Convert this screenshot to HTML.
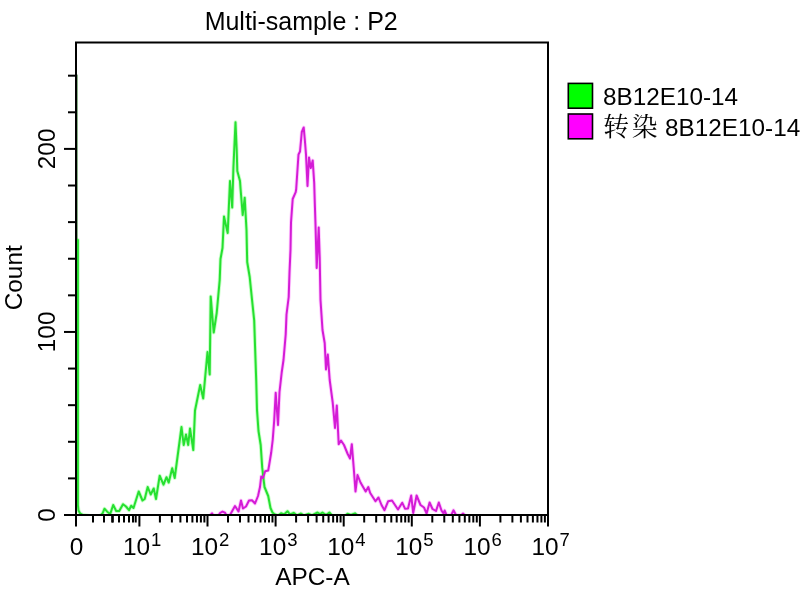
<!DOCTYPE html>
<html lang="zh">
<head>
<meta charset="utf-8">
<title>Multi-sample : P2</title>
<style>
html,body{margin:0;padding:0;background:#fff;}
body{width:800px;height:600px;overflow:hidden;font-family:"Liberation Sans","Noto Serif CJK SC",sans-serif;}
svg{display:block;}
text{font-family:"Liberation Sans","Noto Serif CJK SC",sans-serif;font-size:24.4px;fill:#000;}
.cjk{font-family:"Noto Serif CJK SC","Liberation Serif",serif;font-size:25.8px;letter-spacing:2.6px;}
</style>
</head>
<body>
<svg width="800" height="600" viewBox="0 0 800 600">
<rect x="0" y="0" width="800" height="600" fill="#fff"/>
<defs><clipPath id="plotclip"><rect x="76" y="42" width="472" height="472.6"/></clipPath></defs>
<g fill="none" stroke-linejoin="round" stroke-linecap="round" clip-path="url(#plotclip)">
<line x1="77.3" y1="75" x2="77.3" y2="240" stroke="#0a5c0a" stroke-opacity="0.6" stroke-width="1"/>
<polyline stroke="#00ff00" stroke-opacity="0.22" stroke-width="3.8" points="77.9,240.0 77.9,505.0 78.5,510.5 80.0,513.3 83.0,515.0 90.0,516.0 100.0,516.0 102.7,513.2 104.5,508.7 107.2,511.7 110.2,514.0 113.2,505.0 116.2,511.0 119.2,511.0 123.0,504.2 126.0,506.5 129.0,510.2 131.2,505.7 133.5,508.0 138.7,491.5 142.5,500.5 144.7,499.0 147.7,487.0 150.7,494.5 153.7,488.5 156.0,499.0 159.7,475.7 163.5,484.7 166.5,477.2 168.7,482.5 172.2,468.2 174.7,478.0 181.5,427.0 183.7,445.0 186.0,434.5 188.2,445.0 190.0,428.5 193.3,450.0 195.0,410.5 200.2,385.0 203.2,398.5 207.5,352.0 209.7,374.5 210.7,296.5 213.7,332.5 216.7,313.0 219.7,280.0 220.5,259.0 222.5,248.0 224.0,216.5 227.7,233.0 230.0,181.0 232.2,207.5 233.4,168.0 235.5,122.2 236.7,150.0 237.3,171.0 240.0,181.0 240.5,188.0 242.7,215.0 244.7,197.7 246.5,230.0 247.2,262.0 249.7,277.0 252.0,299.5 254.2,320.5 255.0,345.0 256.2,380.0 257.0,410.0 258.5,431.0 260.7,445.0 262.2,467.5 264.5,487.0 268.2,496.0 270.5,508.0 272.5,512.5 274.5,514.2 278.0,515.5 281.0,513.2 284.0,514.5 287.5,511.2 290.0,514.5 293.7,512.8 297.0,515.5 301.0,513.5 304.0,515.5 308.7,513.8 312.0,515.5 317.5,512.5 320.0,514.0 322.5,512.5 326.0,515.0 329.4,512.5 332.0,515.5 345.0,516.0 347.5,513.8 351.0,515.0 355.0,513.3 358.0,516.0"/>
<polyline stroke="#ff00ff" stroke-opacity="0.2" stroke-width="3.8" points="210.5,515.0 212.0,513.3 213.5,515.5 218.5,515.5 220.0,513.0 222.5,511.6 225.0,512.7 226.5,515.5 230.0,515.0 235.0,506.0 238.5,511.5 241.0,500.5 243.0,508.5 246.0,506.5 249.0,500.5 252.0,500.3 255.0,503.5 258.0,496.0 260.0,487.0 261.2,476.5 263.0,478.0 265.2,471.2 268.2,470.5 269.0,466.0 271.2,452.5 272.7,440.0 274.2,420.5 275.7,392.7 278.0,425.0 279.5,392.0 281.7,372.5 283.5,360.0 285.7,334.5 286.5,314.5 288.7,297.0 289.5,272.5 290.5,250.0 291.0,222.5 292.7,199.0 295.7,192.2 296.2,189.0 298.5,154.5 300.0,151.5 301.8,132.0 303.7,127.5 304.8,139.5 306.0,154.5 307.5,186.0 309.0,157.5 310.8,168.0 312.7,160.5 314.2,183.0 314.7,200.0 315.5,224.5 316.7,268.0 318.7,227.5 319.7,257.5 320.2,285.0 320.5,300.0 322.5,330.0 324.7,343.0 326.0,369.5 327.8,354.5 329.7,380.0 332.7,402.5 335.0,428.0 336.8,405.5 338.7,444.2 341.0,440.5 344.0,445.0 347.7,454.0 350.0,458.5 351.8,444.2 353.7,467.5 355.5,491.5 357.5,475.0 360.5,482.5 365.7,491.5 368.3,487.0 370.2,493.0 375.5,501.2 378.5,497.5 381.5,505.0 384.5,510.2 388.2,501.2 392.0,500.5 395.0,505.0 398.0,509.5 402.2,502.7 405.0,508.7 408.0,508.5 411.2,495.5 413.2,513.0 416.6,495.5 420.5,505.0 424.0,507.5 426.6,513.5 429.6,502.5 432.5,509.0 436.0,511.0 438.8,502.5 441.5,510.5 443.5,513.5 444.6,510.5 446.5,515.0 451.0,515.5 453.5,510.3 456.0,515.0 461.0,515.5 463.0,513.5 465.0,515.5"/>
<polyline stroke="#26e030" stroke-width="2" points="77.9,240.0 77.9,505.0 78.5,510.5 80.0,513.3 83.0,515.0 90.0,516.0 100.0,516.0 102.7,513.2 104.5,508.7 107.2,511.7 110.2,514.0 113.2,505.0 116.2,511.0 119.2,511.0 123.0,504.2 126.0,506.5 129.0,510.2 131.2,505.7 133.5,508.0 138.7,491.5 142.5,500.5 144.7,499.0 147.7,487.0 150.7,494.5 153.7,488.5 156.0,499.0 159.7,475.7 163.5,484.7 166.5,477.2 168.7,482.5 172.2,468.2 174.7,478.0 181.5,427.0 183.7,445.0 186.0,434.5 188.2,445.0 190.0,428.5 193.3,450.0 195.0,410.5 200.2,385.0 203.2,398.5 207.5,352.0 209.7,374.5 210.7,296.5 213.7,332.5 216.7,313.0 219.7,280.0 220.5,259.0 222.5,248.0 224.0,216.5 227.7,233.0 230.0,181.0 232.2,207.5 233.4,168.0 235.5,122.2 236.7,150.0 237.3,171.0 240.0,181.0 240.5,188.0 242.7,215.0 244.7,197.7 246.5,230.0 247.2,262.0 249.7,277.0 252.0,299.5 254.2,320.5 255.0,345.0 256.2,380.0 257.0,410.0 258.5,431.0 260.7,445.0 262.2,467.5 264.5,487.0 268.2,496.0 270.5,508.0 272.5,512.5 274.5,514.2 278.0,515.5 281.0,513.2 284.0,514.5 287.5,511.2 290.0,514.5 293.7,512.8 297.0,515.5 301.0,513.5 304.0,515.5 308.7,513.8 312.0,515.5 317.5,512.5 320.0,514.0 322.5,512.5 326.0,515.0 329.4,512.5 332.0,515.5 345.0,516.0 347.5,513.8 351.0,515.0 355.0,513.3 358.0,516.0"/>
<polyline stroke="#d41cd6" stroke-width="2" points="210.5,515.0 212.0,513.3 213.5,515.5 218.5,515.5 220.0,513.0 222.5,511.6 225.0,512.7 226.5,515.5 230.0,515.0 235.0,506.0 238.5,511.5 241.0,500.5 243.0,508.5 246.0,506.5 249.0,500.5 252.0,500.3 255.0,503.5 258.0,496.0 260.0,487.0 261.2,476.5 263.0,478.0 265.2,471.2 268.2,470.5 269.0,466.0 271.2,452.5 272.7,440.0 274.2,420.5 275.7,392.7 278.0,425.0 279.5,392.0 281.7,372.5 283.5,360.0 285.7,334.5 286.5,314.5 288.7,297.0 289.5,272.5 290.5,250.0 291.0,222.5 292.7,199.0 295.7,192.2 296.2,189.0 298.5,154.5 300.0,151.5 301.8,132.0 303.7,127.5 304.8,139.5 306.0,154.5 307.5,186.0 309.0,157.5 310.8,168.0 312.7,160.5 314.2,183.0 314.7,200.0 315.5,224.5 316.7,268.0 318.7,227.5 319.7,257.5 320.2,285.0 320.5,300.0 322.5,330.0 324.7,343.0 326.0,369.5 327.8,354.5 329.7,380.0 332.7,402.5 335.0,428.0 336.8,405.5 338.7,444.2 341.0,440.5 344.0,445.0 347.7,454.0 350.0,458.5 351.8,444.2 353.7,467.5 355.5,491.5 357.5,475.0 360.5,482.5 365.7,491.5 368.3,487.0 370.2,493.0 375.5,501.2 378.5,497.5 381.5,505.0 384.5,510.2 388.2,501.2 392.0,500.5 395.0,505.0 398.0,509.5 402.2,502.7 405.0,508.7 408.0,508.5 411.2,495.5 413.2,513.0 416.6,495.5 420.5,505.0 424.0,507.5 426.6,513.5 429.6,502.5 432.5,509.0 436.0,511.0 438.8,502.5 441.5,510.5 443.5,513.5 444.6,510.5 446.5,515.0 451.0,515.5 453.5,510.3 456.0,515.0 461.0,515.5 463.0,513.5 465.0,515.5"/>
</g>
<g stroke="#000" stroke-width="2" fill="none">
<rect x="76" y="42.5" width="472" height="472.5"/>
<line x1="64" y1="515.00" x2="76" y2="515.00"/>
<line x1="68" y1="478.39" x2="76" y2="478.39"/>
<line x1="68" y1="441.78" x2="76" y2="441.78"/>
<line x1="68" y1="405.17" x2="76" y2="405.17"/>
<line x1="68" y1="368.56" x2="76" y2="368.56"/>
<line x1="64" y1="331.95" x2="76" y2="331.95"/>
<line x1="68" y1="295.34" x2="76" y2="295.34"/>
<line x1="68" y1="258.73" x2="76" y2="258.73"/>
<line x1="68" y1="222.12" x2="76" y2="222.12"/>
<line x1="68" y1="185.51" x2="76" y2="185.51"/>
<line x1="64" y1="148.90" x2="76" y2="148.90"/>
<line x1="68" y1="112.29" x2="76" y2="112.29"/>
<line x1="68" y1="75.68" x2="76" y2="75.68"/>
<line x1="93.00" y1="515" x2="93.00" y2="522.5"/>
<line x1="104.00" y1="515" x2="104.00" y2="522.5"/>
<line x1="112.20" y1="515" x2="112.20" y2="522.5"/>
<line x1="112.80" y1="515" x2="112.80" y2="522.5"/>
<line x1="119.00" y1="515" x2="119.00" y2="522.5"/>
<line x1="124.00" y1="515" x2="124.00" y2="522.5"/>
<line x1="129.00" y1="515" x2="129.00" y2="522.5"/>
<line x1="133.00" y1="515" x2="133.00" y2="522.5"/>
<line x1="135.70" y1="515" x2="135.70" y2="522.5"/>
<line x1="76.00" y1="515" x2="76.00" y2="526.5"/>
<line x1="139.40" y1="515" x2="139.40" y2="526.5"/>
<line x1="159.90" y1="515" x2="159.90" y2="522.5"/>
<line x1="171.89" y1="515" x2="171.89" y2="522.5"/>
<line x1="180.40" y1="515" x2="180.40" y2="522.5"/>
<line x1="187.00" y1="515" x2="187.00" y2="522.5"/>
<line x1="192.39" y1="515" x2="192.39" y2="522.5"/>
<line x1="196.95" y1="515" x2="196.95" y2="522.5"/>
<line x1="200.90" y1="515" x2="200.90" y2="522.5"/>
<line x1="204.38" y1="515" x2="204.38" y2="522.5"/>
<line x1="207.50" y1="515" x2="207.50" y2="526.5"/>
<line x1="228.00" y1="515" x2="228.00" y2="522.5"/>
<line x1="239.99" y1="515" x2="239.99" y2="522.5"/>
<line x1="248.50" y1="515" x2="248.50" y2="522.5"/>
<line x1="255.10" y1="515" x2="255.10" y2="522.5"/>
<line x1="260.49" y1="515" x2="260.49" y2="522.5"/>
<line x1="265.05" y1="515" x2="265.05" y2="522.5"/>
<line x1="269.00" y1="515" x2="269.00" y2="522.5"/>
<line x1="272.48" y1="515" x2="272.48" y2="522.5"/>
<line x1="275.60" y1="515" x2="275.60" y2="526.5"/>
<line x1="296.10" y1="515" x2="296.10" y2="522.5"/>
<line x1="308.09" y1="515" x2="308.09" y2="522.5"/>
<line x1="316.60" y1="515" x2="316.60" y2="522.5"/>
<line x1="323.20" y1="515" x2="323.20" y2="522.5"/>
<line x1="328.59" y1="515" x2="328.59" y2="522.5"/>
<line x1="333.15" y1="515" x2="333.15" y2="522.5"/>
<line x1="337.10" y1="515" x2="337.10" y2="522.5"/>
<line x1="340.58" y1="515" x2="340.58" y2="522.5"/>
<line x1="343.70" y1="515" x2="343.70" y2="526.5"/>
<line x1="364.20" y1="515" x2="364.20" y2="522.5"/>
<line x1="376.19" y1="515" x2="376.19" y2="522.5"/>
<line x1="384.70" y1="515" x2="384.70" y2="522.5"/>
<line x1="391.30" y1="515" x2="391.30" y2="522.5"/>
<line x1="396.69" y1="515" x2="396.69" y2="522.5"/>
<line x1="401.25" y1="515" x2="401.25" y2="522.5"/>
<line x1="405.20" y1="515" x2="405.20" y2="522.5"/>
<line x1="408.68" y1="515" x2="408.68" y2="522.5"/>
<line x1="411.80" y1="515" x2="411.80" y2="526.5"/>
<line x1="432.30" y1="515" x2="432.30" y2="522.5"/>
<line x1="444.29" y1="515" x2="444.29" y2="522.5"/>
<line x1="452.80" y1="515" x2="452.80" y2="522.5"/>
<line x1="459.40" y1="515" x2="459.40" y2="522.5"/>
<line x1="464.79" y1="515" x2="464.79" y2="522.5"/>
<line x1="469.35" y1="515" x2="469.35" y2="522.5"/>
<line x1="473.30" y1="515" x2="473.30" y2="522.5"/>
<line x1="476.78" y1="515" x2="476.78" y2="522.5"/>
<line x1="479.90" y1="515" x2="479.90" y2="526.5"/>
<line x1="500.40" y1="515" x2="500.40" y2="522.5"/>
<line x1="512.39" y1="515" x2="512.39" y2="522.5"/>
<line x1="520.90" y1="515" x2="520.90" y2="522.5"/>
<line x1="527.50" y1="515" x2="527.50" y2="522.5"/>
<line x1="532.89" y1="515" x2="532.89" y2="522.5"/>
<line x1="537.45" y1="515" x2="537.45" y2="522.5"/>
<line x1="541.40" y1="515" x2="541.40" y2="522.5"/>
<line x1="544.88" y1="515" x2="544.88" y2="522.5"/>
<line x1="548.00" y1="515" x2="548.00" y2="526.5"/>
</g>
<text x="301.2" y="30.2" text-anchor="middle" font-size="25" style="font-size:25px">Multi-sample : P2</text>
<text x="312.5" y="585" text-anchor="middle">APC-A</text>
<text transform="translate(22.3,277.8) rotate(-90)" text-anchor="middle">Count</text>
<text transform="translate(54.5,515) rotate(-90)" text-anchor="middle">0</text>
<text transform="translate(54.5,331.9) rotate(-90)" text-anchor="middle">100</text>
<text transform="translate(54.5,148.9) rotate(-90)" text-anchor="middle">200</text>
<text x="76.5" y="554.5" text-anchor="middle">0</text>
<text x="122.9" y="554.5">10<tspan dx="0.9" dy="-8.8" style="font-size:18.5px">1</tspan></text>
<text x="191.0" y="554.5">10<tspan dx="0.9" dy="-8.8" style="font-size:18.5px">2</tspan></text>
<text x="259.1" y="554.5">10<tspan dx="0.9" dy="-8.8" style="font-size:18.5px">3</tspan></text>
<text x="327.2" y="554.5">10<tspan dx="0.9" dy="-8.8" style="font-size:18.5px">4</tspan></text>
<text x="395.3" y="554.5">10<tspan dx="0.9" dy="-8.8" style="font-size:18.5px">5</tspan></text>
<text x="463.4" y="554.5">10<tspan dx="0.9" dy="-8.8" style="font-size:18.5px">6</tspan></text>
<text x="531.5" y="554.5">10<tspan dx="0.9" dy="-8.8" style="font-size:18.5px">7</tspan></text>
<rect x="568.3" y="83.4" width="24.2" height="24.8" fill="#00ff00" stroke="#000" stroke-width="1.6"/>
<rect x="568.3" y="114" width="24.2" height="24.8" fill="#ff00ff" stroke="#000" stroke-width="1.6"/>
<text x="603" y="104.7" style="font-size:24.3px">8B12E10-14</text>
<text x="603.3" y="135.5" style="font-size:24.3px"><tspan class="cjk">转染</tspan><tspan x="658.35" y="135.7" style="letter-spacing:0"> 8B12E10-14</tspan></text>
</svg>
</body>
</html>
